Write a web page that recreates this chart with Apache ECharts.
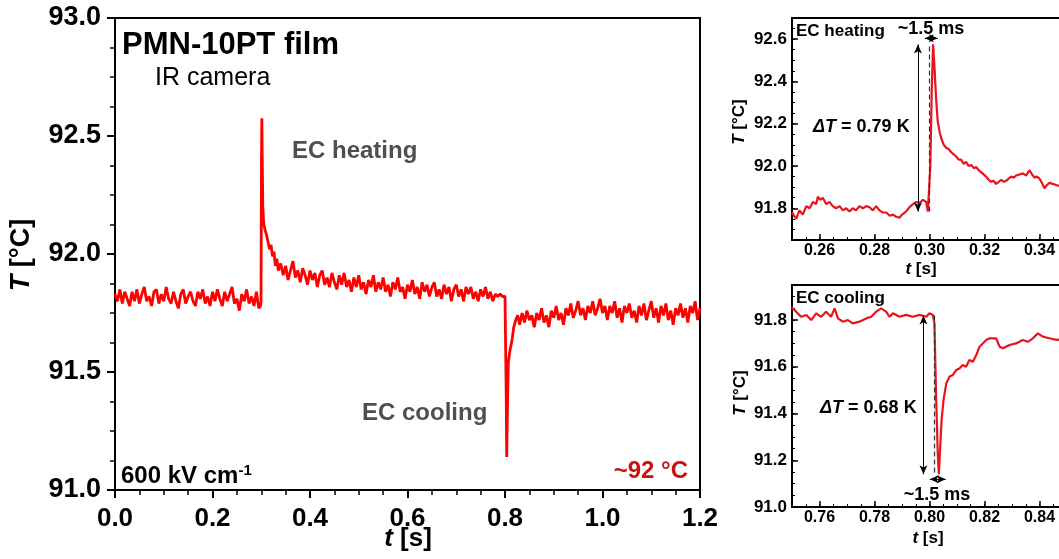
<!DOCTYPE html>
<html>
<head>
<meta charset="utf-8">
<script src="https://cdn.jsdelivr.net/npm/echarts@6/dist/echarts.min.js"></script>
<style>
  html, body { margin: 0; padding: 0; background: #fff; }
  #chart { width: 1059px; height: 559px; }
</style>
</head>
<body>
<div id="chart"></div>
<script>
// Temperature trace of the PMN-10PT film (IR camera), 600 kV/cm pulse, ~92 °C
const mainTrace = [
  [0.000,91.83],[0.005,91.80],[0.010,91.85],[0.015,91.79],[0.020,91.84],[0.025,91.81],[0.030,91.78],[0.035,91.84],
  [0.040,91.80],[0.045,91.85],[0.050,91.79],[0.055,91.83],[0.060,91.86],[0.065,91.80],[0.070,91.82],[0.075,91.78],
  [0.080,91.84],[0.085,91.85],[0.090,91.79],[0.095,91.83],[0.100,91.80],[0.105,91.86],[0.110,91.81],[0.115,91.79],
  [0.120,91.84],[0.125,91.80],[0.130,91.77],[0.135,91.83],[0.140,91.85],[0.145,91.79],[0.150,91.82],[0.155,91.84],
  [0.160,91.80],[0.165,91.78],[0.170,91.84],[0.175,91.81],[0.180,91.85],[0.185,91.79],[0.190,91.82],[0.195,91.78],
  [0.200,91.84],[0.205,91.80],[0.210,91.85],[0.215,91.81],[0.220,91.78],[0.225,91.84],[0.230,91.80],[0.235,91.83],
  [0.240,91.86],[0.245,91.79],[0.250,91.81],[0.255,91.76],[0.260,91.83],[0.265,91.80],[0.270,91.85],[0.275,91.79],
  [0.280,91.82],[0.285,91.78],[0.290,91.84],[0.295,91.77],[0.2985,91.78],[0.2995,91.80],[0.3005,92.40],[0.3012,92.575],
  [0.3020,92.42],[0.3032,92.20],[0.3050,92.13],[0.3080,92.10],[0.3110,92.08],[0.3140,92.05],[0.3170,92.02],[0.3200,92.04],
  [0.3230,91.99],[0.3260,92.01],[0.3290,91.95],[0.3320,91.98],[0.3350,91.93],[0.340,91.96],[0.345,91.91],[0.350,91.95],
  [0.355,91.89],[0.360,91.93],[0.365,91.97],[0.370,91.90],[0.375,91.93],[0.380,91.88],[0.385,91.94],[0.390,91.91],
  [0.395,91.87],[0.400,91.93],[0.405,91.89],[0.410,91.92],[0.415,91.86],[0.420,91.91],[0.425,91.93],[0.430,91.87],
  [0.435,91.90],[0.440,91.86],[0.445,91.92],[0.450,91.88],[0.455,91.85],[0.460,91.91],[0.465,91.87],[0.470,91.92],
  [0.475,91.86],[0.480,91.89],[0.485,91.84],[0.490,91.90],[0.495,91.86],[0.500,91.91],[0.505,91.85],[0.510,91.88],
  [0.515,91.83],[0.520,91.89],[0.525,91.86],[0.530,91.91],[0.535,91.84],[0.540,91.88],[0.545,91.85],[0.550,91.90],
  [0.555,91.84],[0.560,91.87],[0.565,91.82],[0.570,91.88],[0.575,91.85],[0.580,91.90],[0.585,91.84],[0.590,91.86],
  [0.595,91.81],[0.600,91.87],[0.605,91.84],[0.610,91.89],[0.615,91.83],[0.620,91.86],[0.625,91.81],[0.630,91.88],
  [0.635,91.84],[0.640,91.87],[0.645,91.82],[0.650,91.86],[0.655,91.88],[0.660,91.82],[0.665,91.85],[0.670,91.81],
  [0.675,91.87],[0.680,91.83],[0.685,91.86],[0.690,91.80],[0.695,91.85],[0.700,91.87],[0.705,91.82],[0.710,91.85],
  [0.715,91.80],[0.720,91.86],[0.725,91.83],[0.730,91.86],[0.735,91.81],[0.740,91.84],[0.745,91.80],[0.750,91.85],
  [0.755,91.82],[0.760,91.86],[0.765,91.81],[0.770,91.84],[0.775,91.80],[0.780,91.83],[0.785,91.82],[0.790,91.83],
  [0.795,91.82],[0.800,91.82],[0.8015,91.82],[0.8025,91.40],[0.8035,91.14],[0.8050,91.35],[0.8068,91.54],[0.810,91.59],
  [0.814,91.63],[0.818,91.69],[0.822,91.72],[0.826,91.74],[0.830,91.70],[0.835,91.75],[0.840,91.71],[0.845,91.76],
  [0.850,91.72],[0.855,91.74],[0.860,91.69],[0.865,91.75],[0.870,91.72],[0.875,91.77],[0.880,91.71],[0.885,91.74],
  [0.890,91.69],[0.895,91.76],[0.900,91.73],[0.905,91.78],[0.910,91.72],[0.915,91.75],[0.920,91.70],[0.925,91.77],
  [0.930,91.74],[0.935,91.79],[0.940,91.73],[0.945,91.76],[0.950,91.80],[0.955,91.74],[0.960,91.77],[0.965,91.72],
  [0.970,91.78],[0.975,91.75],[0.980,91.80],[0.985,91.74],[0.990,91.77],[0.995,91.81],[1.000,91.75],[1.005,91.78],
  [1.010,91.72],[1.015,91.78],[1.020,91.75],[1.025,91.80],[1.030,91.73],[1.035,91.77],[1.040,91.71],[1.045,91.78],
  [1.050,91.75],[1.055,91.79],[1.060,91.73],[1.065,91.76],[1.070,91.71],[1.075,91.78],[1.080,91.74],[1.085,91.79],
  [1.090,91.72],[1.095,91.76],[1.100,91.80],[1.105,91.73],[1.110,91.77],[1.115,91.71],[1.120,91.78],[1.125,91.74],
  [1.130,91.79],[1.135,91.72],[1.140,91.76],[1.145,91.70],[1.150,91.77],[1.155,91.74],[1.160,91.79],[1.165,91.73],
  [1.170,91.77],[1.175,91.71],[1.180,91.78],[1.185,91.75],[1.190,91.80],[1.195,91.72],[1.200,91.77]
];

// Close-up of the heating step
const heatTrace = [
  [0.2500,91.78],[0.2515,91.75],[0.2527,91.79],[0.2539,91.77],[0.2552,91.81],[0.2564,91.80],[0.2576,91.83],[0.2588,91.82],
  [0.2594,91.855],[0.2603,91.84],[0.2612,91.85],[0.2624,91.82],[0.2636,91.83],[0.2648,91.81],[0.2660,91.80],[0.2673,91.81],
  [0.2685,91.79],[0.2697,91.80],[0.2709,91.785],[0.2721,91.80],[0.2733,91.79],[0.2745,91.81],[0.2758,91.80],[0.2770,91.81],
  [0.2782,91.805],[0.2794,91.79],[0.2806,91.81],[0.2818,91.79],[0.2830,91.78],[0.2843,91.78],[0.2855,91.765],[0.2867,91.77],
  [0.2879,91.76],[0.2891,91.755],[0.2900,91.77],[0.2909,91.778],[0.2918,91.79],[0.2927,91.805],[0.2940,91.82],[0.2952,91.83],
  [0.2964,91.825],[0.2976,91.84],[0.2988,91.83],[0.2994,91.785],[0.2998,91.785],[0.3003,92.00],[0.3008,92.35],[0.3013,92.575],
  [0.3018,92.47],[0.3024,92.32],[0.3030,92.21],[0.3037,92.16],[0.3043,92.13],[0.3052,92.10],[0.3061,92.085],[0.3070,92.08],
  [0.3079,92.065],[0.3088,92.055],[0.3097,92.045],[0.3106,92.03],[0.3115,92.03],[0.3124,92.01],[0.3133,92.02],[0.3142,92.00],
  [0.3152,92.005],[0.3161,91.99],[0.3170,91.995],[0.3179,91.98],[0.3188,91.97],[0.3197,91.96],[0.3206,91.95],[0.3215,91.935],
  [0.3224,91.925],[0.3233,91.93],[0.3242,91.915],[0.3252,91.925],[0.3261,91.935],[0.3270,91.925],[0.3279,91.93],[0.3288,91.94],
  [0.3297,91.95],[0.3306,91.945],[0.3315,91.955],[0.3327,91.96],[0.3339,91.965],[0.3351,91.955],[0.3364,91.98],[0.3373,91.96],
  [0.3382,91.945],[0.3391,91.95],[0.3400,91.94],[0.3409,91.92],[0.3418,91.895],[0.3427,91.91],[0.3436,91.92],[0.3449,91.915],
  [0.3461,91.91],[0.3475,91.905],[0.3490,91.90]
];

// Close-up of the cooling step
const coolTrace = [
  [0.7497,91.857],[0.7515,91.836],[0.7533,91.814],[0.7552,91.822],[0.7570,91.800],[0.7588,91.829],[0.7606,91.814],[0.7624,91.836],
  [0.7642,91.814],[0.7655,91.850],[0.7667,91.807],[0.7685,91.793],[0.7703,91.800],[0.7721,91.786],[0.7745,91.793],[0.7770,91.807],
  [0.7788,91.814],[0.7806,91.836],[0.7824,91.850],[0.7842,91.836],[0.7855,91.814],[0.7867,91.829],[0.7891,91.814],[0.7915,91.822],
  [0.7939,91.814],[0.7964,91.822],[0.7988,91.814],[0.8000,91.829],[0.8012,91.822],[0.8018,91.786],[0.8024,91.472],[0.8030,91.230],
  [0.8034,91.140],[0.8039,91.258],[0.8044,91.372],[0.8051,91.458],[0.8061,91.529],[0.8073,91.558],[0.8085,91.565],[0.8097,91.586],
  [0.8109,91.593],[0.8121,91.608],[0.8133,91.600],[0.8145,91.629],[0.8158,91.622],[0.8170,91.650],[0.8182,91.686],[0.8194,91.700],
  [0.8206,91.715],[0.8218,91.722],[0.8242,91.722],[0.8255,91.686],[0.8267,91.679],[0.8291,91.693],[0.8315,91.700],[0.8339,91.715],
  [0.8358,91.707],[0.8376,91.722],[0.8394,91.743],[0.8412,91.729],[0.8436,91.722],[0.8461,91.715],[0.8490,91.720]
];

// Tick values
const mainXTicks = [0.0, 0.2, 0.4, 0.6, 0.8, 1.0, 1.2];
const mainYTicks = [91.0, 91.5, 92.0, 92.5, 93.0];
const heatXTicks = [0.26, 0.28, 0.30, 0.32, 0.34, 0.36];
const heatYTicks = [91.8, 92.0, 92.2, 92.4, 92.6];
const coolXTicks = [0.76, 0.78, 0.80, 0.82, 0.84, 0.86];
const coolYTicks = [91.0, 91.2, 91.4, 91.6, 91.8];

// Annotated quantities
const heatBase = 91.785, heatDelta = 0.79, heatOnset = 0.2998, heatArrowT = 0.2958;
const coolBase = 91.82, coolDelta = 0.68, coolOnset = 0.8016, coolArrowT = 0.7978;
const riseLabel = '~1.5 ms';
const heatSpan = [0.2983, 0.3030], heatSpanY = 92.604;
const coolSpan = [0.8001, 0.8059], coolSpanY = 91.119;

const FONT = '"Liberation Sans", Arial, Helvetica, sans-serif';
const chart = echarts.init(document.getElementById('chart'), null, { renderer: 'canvas' });

function mainAxis(kind, ticks) {
  return {
    type: 'value', gridIndex: 0,
    min: ticks[0], max: ticks[ticks.length - 1], interval: ticks[1] - ticks[0],
    axisLine: { show: true, onZero: false, lineStyle: { color: '#000', width: 2 } },
    axisTick: { show: true, inside: false, length: 8, lineStyle: { color: '#000', width: 2 } },
    minorTick: { show: true, splitNumber: 4, length: 5, lineStyle: { color: '#000', width: 1.5 } },
    splitLine: { show: false }, minorSplitLine: { show: false },
    axisLabel: {
      color: '#000', fontFamily: FONT, fontWeight: 'bold', fontSize: kind === 'x' ? 26 : 27,
      margin: kind === 'x' ? 16 : 14,
      formatter: v => v.toFixed(1)
    }
  };
}
function insetAxis(grid, ticks, min, max, digits, margin, size) {
  return {
    type: 'value', gridIndex: grid, min: min, max: max,
    axisLine: { show: true, onZero: false, lineStyle: { color: '#000', width: 2 } },
    axisTick: { show: true, inside: true, length: 6, customValues: ticks, lineStyle: { color: '#000', width: 1.5 } },
    splitLine: { show: false },
    axisLabel: {
      customValues: ticks, color: '#000', fontFamily: FONT, fontWeight: 'bold', fontSize: size,
      margin: margin, formatter: v => v.toFixed(digits)
    }
  };
}
function minorAxis(grid, min, max, step, pos) {
  return {
    type: 'value', gridIndex: grid, min: min, max: max, interval: step, position: pos, offset: 0,
    axisLine: { show: false }, axisLabel: { show: false }, splitLine: { show: false },
    axisTick: { show: true, inside: true, length: 3, lineStyle: { color: '#000', width: 1 } }
  };
}

function txt(x, y, text, size, opts) {
  opts = opts || {};
  return {
    type: 'text', x: x, y: y, rotation: opts.rot || 0, z: 100, silent: true,
    style: {
      text: text, fontFamily: FONT, fontSize: size, fontWeight: opts.weight || 'bold',
      fill: opts.color || '#000', align: opts.align || 'left', verticalAlign: 'middle',
      rich: {
        i: { fontFamily: FONT, fontSize: size, fontWeight: opts.weight || 'bold', fontStyle: 'italic', fill: opts.color || '#000' },
        sup: { fontFamily: FONT, fontSize: Math.round(size * 0.62), fontWeight: 'bold', fill: opts.color || '#000', verticalAlign: 'top', padding: [0, 0, 10, 0] }
      }
    }
  };
}

function arrowPair(t0, v0, t1, v1) {
  return [
    { coord: [t0, v0], symbol: 'arrow', lineStyle: { color: '#000', width: 1, type: 'solid' } },
    { coord: [t1, v1], symbol: 'arrow' }
  ];
}
function dashPair(t, v0, v1) {
  return [
    { coord: [t, v0], symbol: 'none', lineStyle: { color: '#333', width: 1.2, type: [5, 3] } },
    { coord: [t, v1], symbol: 'none' }
  ];
}

const gridBase = { show: true, borderColor: '#000', borderWidth: 2, backgroundColor: 'transparent', containLabel: false, outerBoundsMode: 'none' };

const option = {
  animation: false,
  backgroundColor: '#fff',
  grid: [
    Object.assign({ left: 115, top: 18, width: 585, height: 472 }, gridBase),
    Object.assign({ left: 792, top: 18, width: 302.5, height: 222 }, gridBase),
    Object.assign({ left: 792, top: 285, width: 302.5, height: 222 }, gridBase)
  ],
  xAxis: [
    mainAxis('x', mainXTicks),
    insetAxis(1, heatXTicks, 0.25, 0.36, 2, 3, 16),
    minorAxis(1, 0.25, 0.36, 0.005, 'bottom'),
    insetAxis(2, coolXTicks, 0.75, 0.86, 2, 3, 16),
    minorAxis(2, 0.75, 0.86, 0.005, 'bottom')
  ],
  yAxis: [
    mainAxis('y', mainYTicks),
    insetAxis(1, heatYTicks, 91.65, 92.70, 1, 5, 17),
    minorAxis(1, 91.65, 92.70, 0.05, 'left'),
    insetAxis(2, coolYTicks, 91.0, 91.95, 1, 5, 17),
    minorAxis(2, 91.0, 91.95, 0.05, 'left')
  ],
  series: [
    {
      type: 'line', xAxisIndex: 0, yAxisIndex: 0, data: mainTrace, showSymbol: false, symbol: 'none',
      lineStyle: { color: '#ff0000', width: 2.8 }, clip: true
    },
    {
      type: 'line', xAxisIndex: 1, yAxisIndex: 1, data: heatTrace, showSymbol: false, symbol: 'none',
      lineStyle: { color: '#e8141c', width: 2.2 }, clip: true,
      markLine: {
        silent: true, symbolSize: [6, 9], label: { show: false }, animation: false,
        data: [
          arrowPair(heatArrowT, heatBase + heatDelta, heatArrowT, heatBase),
          arrowPair(heatSpan[0], heatSpanY, heatSpan[1], heatSpanY),
          dashPair(heatOnset, heatBase + heatDelta - 0.01, heatBase - 0.01)
        ]
      }
    },
    {
      type: 'line', xAxisIndex: 3, yAxisIndex: 3, data: coolTrace, showSymbol: false, symbol: 'none',
      lineStyle: { color: '#e8141c', width: 2.2 }, clip: true,
      markLine: {
        silent: true, symbolSize: [6, 9], label: { show: false }, animation: false,
        data: [
          arrowPair(coolArrowT, coolBase, coolArrowT, coolBase - coolDelta),
          arrowPair(coolSpan[0], coolSpanY, coolSpan[1], coolSpanY),
          dashPair(coolOnset, coolBase, coolBase - coolDelta)
        ]
      }
    }
  ],
  graphic: [
    // main panel
    txt(122, 45, 'PMN-10PT film', 31),
    txt(155, 78, 'IR camera', 25, { weight: 'normal' }),
    txt(292, 151, 'EC heating', 24, { color: '#4f4f4f' }),
    txt(362, 413, 'EC cooling', 24, { color: '#4f4f4f' }),
    txt(121, 476, '600 kV cm{sup|-1}', 24),
    txt(688, 471, '~92 °C', 24, { color: '#cc1010', align: 'right' }),
    txt(22, 255, '{i|T} [°C]', 27, { rot: Math.PI / 2, align: 'center' }),
    txt(408, 539, '{i|t} [s]', 26, { align: 'center' }),
    // heating close-up
    txt(796, 31, 'EC heating', 17),
    txt(931, 29, riseLabel, 18, { align: 'center' }),
    txt(813, 127, '{i|ΔT} = ' + heatDelta.toFixed(2) + ' K', 18),
    txt(739, 122, '{i|T} [°C]', 17, { rot: Math.PI / 2, align: 'center' }),
    txt(921, 269, '{i|t} [s]', 17, { align: 'center' }),
    // cooling close-up
    txt(796, 298, 'EC cooling', 17),
    txt(937, 495, riseLabel, 18, { align: 'center' }),
    txt(820, 408, '{i|ΔT} = ' + coolDelta.toFixed(2) + ' K', 18),
    txt(740, 393, '{i|T} [°C]', 17, { rot: Math.PI / 2, align: 'center' }),
    txt(928, 538, '{i|t} [s]', 17, { align: 'center' })
  ]
};
chart.setOption(option);
</script>
</body>
</html>
